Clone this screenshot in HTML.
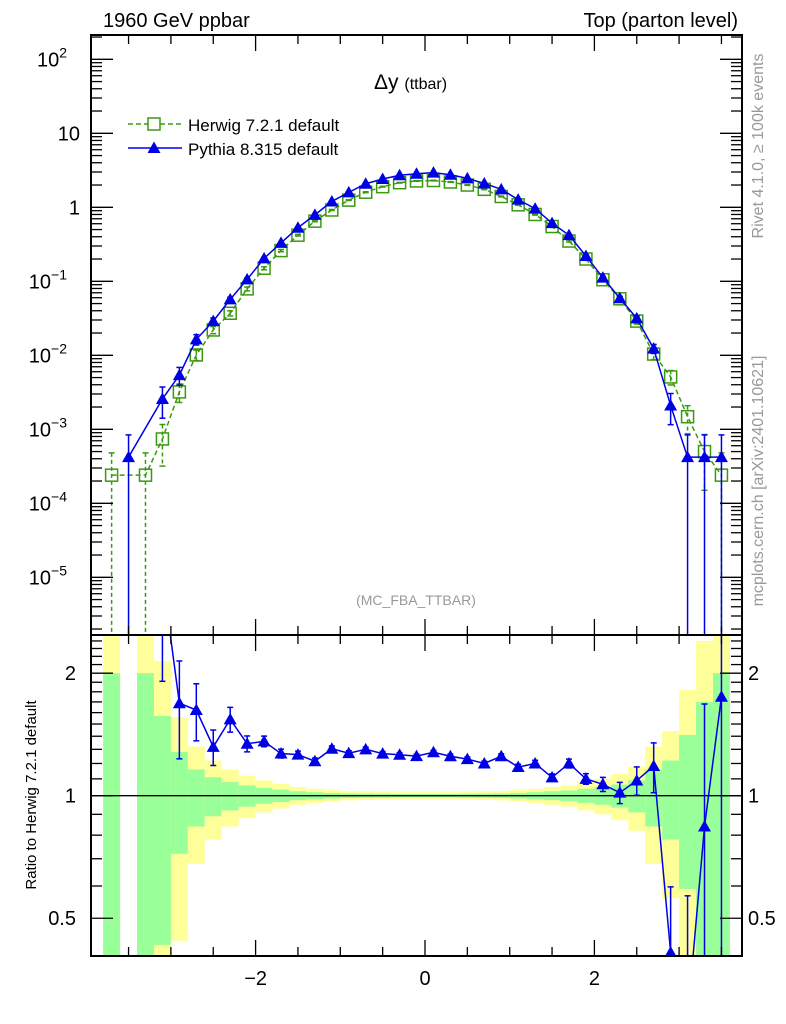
<!DOCTYPE html>
<html><head><meta charset="utf-8"><style>
html,body{margin:0;padding:0;background:#fff;width:786px;height:1024px;overflow:hidden}
svg{display:block;position:absolute;left:0;top:0;font-family:"Liberation Sans",Arial,sans-serif}
</style></head><body>
<svg id="chart" width="786" height="1024" viewBox="0 0 786 1024" xmlns="http://www.w3.org/2000/svg">
<defs>
<clipPath id="cm"><rect x="91" y="35" width="651" height="600"/></clipPath>
<clipPath id="cr"><rect x="91" y="635" width="651" height="321"/></clipPath>
</defs>
<g id="bands" clip-path="url(#cr)"></g>
<g id="mainmarks" clip-path="url(#cm)"></g>
<g id="ratiomarks" clip-path="url(#cr)"></g>
<g id="axes"></g>
<text x="103" y="27" font-size="20">1960 GeV ppbar</text>
<text x="738" y="27" font-size="20" text-anchor="end">Top (parton level)</text>
<text x="374" y="89" font-size="21">Δy <tspan font-size="16">(ttbar)</tspan></text>
<text x="416" y="605" font-size="14" fill="#999" text-anchor="middle">(MC_FBA_TTBAR)</text>
<text transform="translate(763,146) rotate(-90)" font-size="16" fill="#999" text-anchor="middle">Rivet 4.1.0, ≥ 100k events</text>
<text transform="translate(763,481) rotate(-90)" font-size="16" fill="#999" text-anchor="middle">mcplots.cern.ch [arXiv:2401.10621]</text>
<text transform="translate(36,795) rotate(-90)" font-size="15" text-anchor="middle">Ratio to Herwig 7.2.1 default</text>
<g>
<g>
<line x1="128" y1="124" x2="182" y2="124" stroke="#3a9a0f" stroke-width="1.5" stroke-dasharray="5,3"/>
<rect x="148" y="118" width="12" height="12" fill="#fff" stroke="#3a9a0f" stroke-width="1.5"/>
<text x="188" y="131" font-size="17">Herwig 7.2.1 default</text>
</g>
<g>
<line x1="128" y1="148" x2="182" y2="148" stroke="#0000e6" stroke-width="1.5"/>
<polygon points="154,141.5 160.5,153 147.5,153" fill="#0000e6"/>
<text x="188" y="155" font-size="17">Pythia 8.315 default</text>
</g>
</g>
</svg>
<script>
const binCenters=[-3.7,-3.5,-3.3,-3.1,-2.9,-2.7,-2.5,-2.3,-2.1,-1.9,-1.7,-1.5,-1.3,-1.1,-0.9,-0.7,-0.5,-0.3,-0.1,0.1,0.3,0.5,0.7,0.9,1.1,1.3,1.5,1.7,1.9,2.1,2.3,2.5,2.7,2.9,3.1,3.3,3.5];
const binWidth=0.2;
const herwig=[2.4e-4,0,2.4e-4,7.4e-4,3.2e-3,0.0101,0.022,0.037,0.079,0.15,0.26,0.42,0.65,0.92,1.25,1.6,1.9,2.15,2.27,2.3,2.2,2.0,1.75,1.4,1.08,0.8,0.55,0.35,0.2,0.105,0.058,0.029,0.0104,5.1e-3,1.48e-3,5.0e-4,2.4e-4];
const herwigRelErr=[1.0,0,1.0,0.57,0.28,0.16,0.11,0.08,0.06,0.045,0.035,0.025,0.02,0.016,0.013,0.012,0.011,0.01,0.01,0.01,0.01,0.011,0.012,0.013,0.016,0.02,0.025,0.03,0.04,0.05,0.065,0.09,0.16,0.22,0.41,0.7,1.0];
const pythia=[0,4.2e-4,0,2.57e-3,5.4e-3,0.0164,0.029,0.057,0.106,0.204,0.33,0.53,0.79,1.2,1.59,2.08,2.41,2.71,2.84,2.94,2.75,2.46,2.1,1.75,1.27,0.96,0.61,0.42,0.22,0.112,0.059,0.0316,0.0123,0.0021,4.2e-4,4.2e-4,4.2e-4];
const pythiaRelErr=[0,1.0,0,0.45,0.27,0.16,0.1,0.07,0.045,0.03,0.025,0.02,0.018,0.016,0.014,0.013,0.012,0.012,0.011,0.011,0.012,0.012,0.013,0.014,0.016,0.018,0.02,0.025,0.03,0.04,0.06,0.08,0.14,0.45,1.0,1.0,1.0];
const xTicks=[-2,0,2];
const xTickLabels=["−2","0","2"];
const yDecades=[2,1,0,-1,-2,-3,-4,-5];
const yDecadeLabels=[["10","2"],["10",""],["1",""],["10","−1"],["10","−2"],["10","−3"],["10","−4"],["10","−5"]];
const ratioTicks=[2,1,0.5];
const ratioTickLabels=["2","1","0.5"];

const NS="http://www.w3.org/2000/svg";
const L=91,R=742,MT=35,MB=635,RT=635,RB=956;
const X=v=>425+84.7*v;
const Y=v=>207.3-74*Math.log10(v);
const RY=v=>795.7-407*Math.log10(v);
const GREEN="#3a9a0f",BLUE="#0000e6";
function mk(tag,attrs,parent){const e=document.createElementNS(NS,tag);for(const k in attrs)e.setAttribute(k,attrs[k]);parent.appendChild(e);return e;}
const bands=document.getElementById('bands'),mm=document.getElementById('mainmarks'),rm=document.getElementById('ratiomarks'),ax=document.getElementById('axes');

binCenters.forEach((c,i)=>{
  if(!(herwig[i]>0))return;
  const s=herwigRelErr[i];
  const x0=X(c-binWidth/2),w=X(c+binWidth/2)-x0;
  [[2,"#ffff99"],[1,"#99ff99"]].forEach(([k,col])=>{
    const hi=1+k*s,lo=1-k*s;
    const y1=Math.max(RY(hi),RT-5),y2=lo>0?Math.min(RY(lo),RB+3):RB+3;
    const r=mk('rect',{x:x0,y:y1,width:w,height:y2-y1,fill:col},bands);
    
    
  });
});
const ref=mk('line',{x1:L,x2:R,y1:RY(1),y2:RY(1),stroke:'#000','stroke-width':1.3},rm);



function clampY(y,top,bot){return Math.max(top-3,Math.min(bot+3,y));}
function errbar(parent,x,yTop,yBot,col,dash,name){
  const g=mk('g',{},parent);
  
  
  const a={stroke:col,'stroke-width':1.5};if(dash)a['stroke-dasharray']='4,3';
  mk('line',Object.assign({x1:x,x2:x,y1:yTop,y2:yBot},a),g);
  mk('line',{x1:x-3,x2:x+3,y1:yTop,y2:yTop,stroke:col,'stroke-width':1.5},g);
  mk('line',{x1:x-3,x2:x+3,y1:yBot,y2:yBot,stroke:col,'stroke-width':1.5},g);
}
function series(parent,vals,errs,ymap,top,bottom,col,dash,marker,name){
  const pts=[];
  vals.forEach((v,i)=>{ if(v>0&&isFinite(v)) pts.push([X(binCenters[i]),ymap(v),v,errs[i]]); });
  const a={points:pts.map(p=>p[0]+','+p[1]).join(' '),fill:'none',stroke:col,'stroke-width':1.5};
  if(dash)a['stroke-dasharray']='5,3';
  const pl=mk('polyline',a,parent);
  
  
  pts.forEach(p=>{
    const [x,y,v,e]=p;
    const lo=v*(1-e),hi=v*(1+e);
    const yt=clampY(ymap(hi),top,bottom),yb=lo>0?clampY(ymap(lo),top,bottom):bottom+3;
    if(yt<bottom&&yb>top) errbar(parent,x,yt,yb,col,dash,name+'-error');
    if(y<top||y>bottom) return;
    let m;
    if(marker=='sq') m=mk('rect',{x:x-6,y:y-6,width:12,height:12,fill:'none',stroke:col,'stroke-width':1.5},parent);
    else m=mk('polygon',{points:`${x},${y-6.5} ${x+6.5},${y+5} ${x-6.5},${y+5}`,fill:col},parent);
    
    
  });
}
series(mm,herwig,herwigRelErr,Y,MT,MB,GREEN,true,'sq','herwig');
series(mm,pythia,pythiaRelErr,Y,MT,MB,BLUE,false,'tri','pythia');
const ratio=pythia.map((p,i)=>herwig[i]>0&&p>0?p/herwig[i]:0);
series(rm,ratio,pythiaRelErr,RY,RT,RB,BLUE,false,'tri','pythia-ratio');

[[MT,MB],[RT,RB]].forEach(([t,b],k)=>{
  const f=mk('rect',{x:L,y:t,width:R-L,height:b-t,fill:'none',stroke:'#000','stroke-width':2},ax);
  
  
});
function tick(x1,y1,x2,y2){mk('line',{x1,y1,x2,y2,stroke:'#000','stroke-width':1.3},ax);}
for(let v=-3.5;v<=3.51;v+=0.5){
  const x=X(v),maj=Math.abs(v-Math.round(v/2)*2)<1e-6,len=maj?16:9;
  [[MT,1],[MB,-1],[RT,1],[RB,-1]].forEach(([y,d])=>tick(x,y,x,y+d*len));
}
xTicks.forEach((v,i)=>{const t=mk('text',{x:X(v),y:985,'font-size':20,'text-anchor':'middle'},ax);t.textContent=xTickLabels[i];});
for(let d=-6;d<=2;d++){for(let k=1;k<=9;k++){const v=k*Math.pow(10,d),y=Y(v);if(y<MT+1||y>MB-1)continue;const len=k==1?22:11;tick(L,y,L+len,y);tick(R,y,R-len,y);}}
yDecades.forEach((d,i)=>{
  const t=mk('text',{x:80,y:Y(Math.pow(10,d))+7,'font-size':20,'text-anchor':'end'},ax);
  
  
  const [b,e]=yDecadeLabels[i];
  if(e){t.setAttribute('x',67);const s1=mk('tspan',{},t);s1.textContent=b;const s2=mk('tspan',{dy:-9,'font-size':14},t);s2.textContent=e;}
  else t.textContent=b;
});
[0.5,0.6,0.7,0.8,0.9,1,1.1,1.2,1.3,1.4,1.5,1.6,1.7,1.8,1.9,2,2.1,2.2,2.3,2.4].forEach(v=>{
  const y=RY(v),maj=(v==1||v==2||v==0.5),len=maj?22:11;tick(L,y,L+len,y);tick(R,y,R-len,y);
});
ratioTicks.forEach((v,i)=>{
  [[76,'end'],[748,'start']].forEach(([x,a])=>{
    const t=mk('text',{x,y:RY(v)+7,'font-size':20,'text-anchor':a},ax);
    t.textContent=ratioTickLabels[i];
    
    
  });
});
</script>
</body></html>
